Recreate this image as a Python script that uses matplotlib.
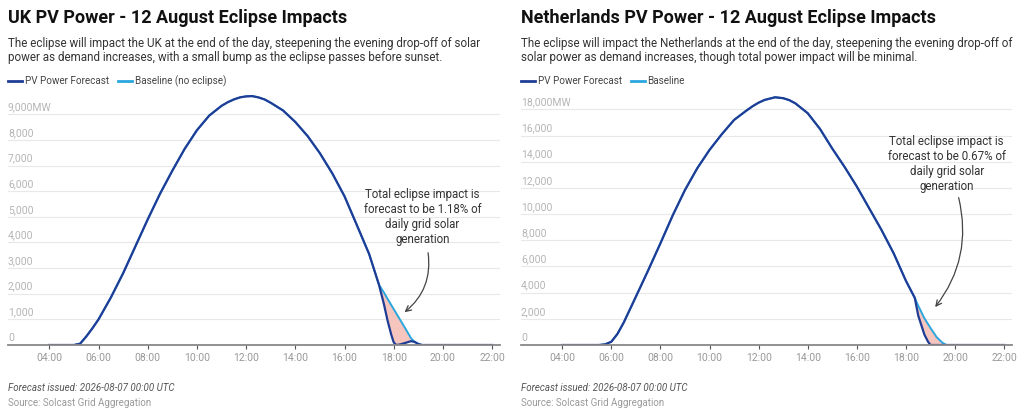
import numpy as np
import matplotlib.pyplot as plt
from matplotlib.lines import Line2D

plt.rcParams['font.family'] = ['Roboto', 'DejaVu Sans']

# --- dane: UK ---
uk_godziny = [4, 4.5, 5, 5.25, 5.5, 5.75, 6, 6.5, 7, 7.5, 8, 8.5, 9, 9.5, 10, 10.5, 11, 11.25,
              11.5, 11.75, 12, 12.25, 12.5, 12.75, 13, 13.5, 14, 14.5, 15, 15.5, 16, 16.5, 17,
              17.4, 17.6, 17.75, 17.9, 18.0, 18.1, 18.25, 18.5, 18.7, 18.85, 19.0, 19.15,
              19.5, 20, 21, 22]
uk_prognoza = [0, 0, 0, 50, 330, 650, 1000, 1850, 2800, 3850, 4900, 5900, 6800, 7650, 8380,
               8950, 9330, 9470, 9580, 9660, 9700, 9710, 9660, 9580, 9450, 9150, 8700, 8150,
               7480, 6700, 5800, 4680, 3550, 2350, 1600, 950, 400, 100, 0, 20, 90, 150, 120,
               40, 0, 0, 0, 0, 0]
# linia bazowa (bez zacmienia) od 17:36
uk_bazowa_okno = [2050, 1800, 1560, 1400, 1240, 1000, 600, 270, 120, 40, 0, 0, 0, 0, 0]

# --- dane: Holandia ---
nl_godziny = [4, 5, 5.5, 5.75, 6, 6.25, 6.5, 7, 7.5, 8, 8.5, 9, 9.5, 10, 10.5, 11, 11.5,
              11.75, 12, 12.25, 12.67, 13, 13.25, 13.5, 14, 14.5, 15, 15.5, 16, 16.5, 17,
              17.5, 18, 18.36, 18.5, 18.75, 18.9, 19.0, 19.25, 19.5, 19.65, 20, 21, 22]
nl_prognoza = [0, 0, 0, 50, 250, 850, 1700, 3690, 5700, 7770, 9900, 11840, 13500, 14900,
               16100, 17190, 17900, 18230, 18510, 18720, 18920, 18850, 18700, 18450, 17700,
               16500, 15000, 13600, 12100, 10450, 8800, 7000, 4900, 3600, 2250, 800, 250, 0,
               0, 0, 0, 0, 0, 0]
# linia bazowa od 18:30
nl_bazowa_okno = [3000, 2050, 1600, 1300, 600, 150, 0, 0, 0, 0]

uk_bazowa = uk_prognoza[:len(uk_prognoza) - len(uk_bazowa_okno)] + uk_bazowa_okno
nl_bazowa = nl_prognoza[:len(nl_prognoza) - len(nl_bazowa_okno)] + nl_bazowa_okno

godziny_ticks = [4, 6, 8, 10, 12, 14, 16, 18, 20, 22]
godziny_etykiety = ['04:00', '06:00', '08:00', '10:00', '12:00', '14:00', '16:00', '18:00',
                    '20:00', '22:00']

uk_yticks = [0, 1000, 2000, 3000, 4000, 5000, 6000, 7000, 8000, 9000]
uk_yetykiety = ['0', '1,000', '2,000', '3,000', '4,000', '5,000', '6,000', '7,000', '8,000',
                '9,000MW']
nl_yticks = [0, 2000, 4000, 6000, 8000, 10000, 12000, 14000, 16000, 18000]
nl_yetykiety = ['0', '2,000', '4,000', '6,000', '8,000', '10,000', '12,000', '14,000', '16,000',
                '18,000MW']

KOLOR_PROGNOZA = '#1f3d96'
KOLOR_BAZOWA = '#2ba6de'
KOLOR_WYPELNIENIE = '#f6c5be'

W, H = 1024, 417


def rysuj(ax, godziny, prognoza, bazowa, yticks, yetykiety, ymax):
    ax.fill_between(godziny, prognoza, bazowa, color=KOLOR_WYPELNIENIE, lw=0, zorder=1)
    ax.plot(godziny, bazowa, color=KOLOR_BAZOWA, lw=1.4, zorder=2, solid_joinstyle='round')
    ax.plot(godziny, prognoza, color=KOLOR_PROGNOZA, lw=1.6, zorder=3, solid_joinstyle='round')

    ax.set_xlim(2.32, 22.32)
    ax.set_ylim(0, ymax)
    ax.set_xticks(godziny_ticks)
    ax.set_xticklabels(godziny_etykiety)
    ax.tick_params(axis='x', length=3, width=0.8, color='#555555', labelcolor='#999999',
                   labelsize=7.5, pad=3)
    ax.set_yticks(yticks)
    ax.tick_params(axis='y', length=0, labelleft=False)
    ax.grid(axis='y', color='#e8e8e8', lw=0.8)
    ax.set_axisbelow(True)
    for s in ['top', 'right', 'left']:
        ax.spines[s].set_visible(False)
    ax.spines['bottom'].set_color('#888888')
    ax.spines['bottom'].set_linewidth(1.3)
    ax.spines['bottom'].set_zorder(4)

    for v, e in zip(yticks, yetykiety):
        ax.annotate(e, xy=(0, v), xycoords=('axes fraction', 'data'), xytext=(0, 1.5),
                    textcoords='offset points', ha='left', va='bottom', fontsize=7.5,
                    color='#b5b5b5')


def naglowek(fig, x0, tytul, opis, etykieta_bazowa):
    fig.text(x0 / W, 1 - 18 / H, tytul, fontsize=13, fontweight='bold', color='#111111',
             va='center', ha='left')
    for i, linia in enumerate(opis):
        fig.text(x0 / W, 1 - (44 + i * 13.3) / H, linia, fontsize=8.4, color='#333333',
                 va='center', ha='left')
    uchwyty = [Line2D([], [], color=KOLOR_PROGNOZA, lw=2),
               Line2D([], [], color=KOLOR_BAZOWA, lw=2)]
    fig.legend(uchwyty, ['PV Power Forecast', etykieta_bazowa], loc='center left',
               bbox_to_anchor=(x0 / W, 1 - 81 / H), ncol=2, frameon=False, fontsize=7.1,
               handlelength=1.4, handletextpad=0.3, columnspacing=0.9, borderpad=0,
               borderaxespad=0, labelcolor='#444444')
    fig.text(x0 / W, 1 - 388 / H, 'Forecast issued: 2026-08-07 00:00 UTC', fontsize=7,
             style='italic', color='#555555', va='center', ha='left')
    fig.text(x0 / W, 1 - 402.5 / H, 'Source: Solcast Grid Aggregation', fontsize=7,
             color='#999999', va='center', ha='left')


fig = plt.figure(figsize=(W / 100, H / 100), dpi=100)
fig.patch.set_facecolor('white')

dol = (H - 345) / H
wys = 251.2 / H

ax1 = fig.add_axes([8 / W, dol, 492 / W, wys])
rysuj(ax1, uk_godziny, uk_prognoza, uk_bazowa, uk_yticks, uk_yetykiety, 9800)
ax1.text(19.17, 4990, 'Total eclipse impact is\nforecast to be 1.18% of\ndaily grid solar\ngeneration',
         ha='center', va='center', fontsize=8.3, color='#333333', linespacing=1.2)
ax1.annotate('', xy=(18.35, 1210), xytext=(19.38, 3706),
             arrowprops=dict(arrowstyle='->', color='#444444', lw=0.9,
                             connectionstyle='arc3,rad=-0.3'))
naglowek(fig, 8, 'UK PV Power - 12 August Eclipse Impacts',
         ['The eclipse will impact the UK at the end of the day, steepening the evening drop-off of solar',
          'power as demand increases, with a small bump as the eclipse passes before sunset.'],
         'Baseline (no eclipse)')

ax2 = fig.add_axes([521 / W, dol, 491 / W, wys])
rysuj(ax2, nl_godziny, nl_prognoza, nl_bazowa, nl_yticks, nl_yetykiety, 19185)
ax2.text(19.66, 13840, 'Total eclipse impact is\nforecast to be 0.67% of\ndaily grid solar\ngeneration',
         ha='center', va='center', fontsize=8.3, color='#333333', linespacing=1.2)
ax2.annotate('', xy=(19.12, 2730), xytext=(20.12, 11460),
             arrowprops=dict(arrowstyle='->', color='#444444', lw=0.9,
                             connectionstyle='arc3,rad=-0.25'))
naglowek(fig, 521, 'Netherlands PV Power - 12 August Eclipse Impacts',
         ['The eclipse will impact the Netherlands at the end of the day, steepening the evening drop-off of',
          'solar power as demand increases, though total power impact will be minimal.'],
         'Baseline')

plt.savefig('out.png', dpi=100)
